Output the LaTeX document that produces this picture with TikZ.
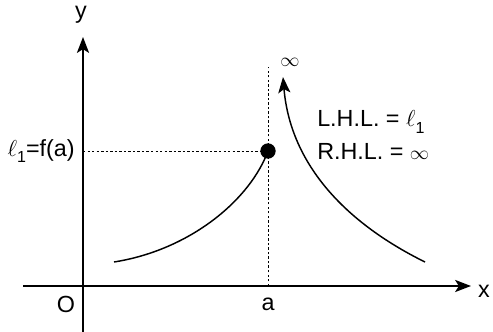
\documentclass[tikz,border=0pt]{standalone}
\usepackage{fontspec}
\setmainfont{Liberation Sans}
\usepackage{tikz}
\usetikzlibrary{positioning,arrows.meta,calc}
\newcommand{\ellsub}{$\ell$\raisebox{-0.5ex}{\fontsize{12}{13}\selectfont 1}}
\newcommand{\infsym}{{\fontsize{13.5}{15}\selectfont$\infty$}}
\tikzset{
  axisline/.style={-{Stealth[length=4.2mm, width=3.2mm, inset=1mm]}, line width=1.1pt},
  curveline/.style={line width=1.1pt},
  arrowcurve/.style={-{Stealth[length=4.2mm, width=3.2mm, inset=1mm]}, line width=1.1pt},
  guideline/.style={line width=0.7pt, dash pattern=on 1.8pt off 1.6pt},
  lbl/.style={font=\fontsize{17.5}{20}\selectfont, inner sep=0pt}
}
\begin{document}
\begin{tikzpicture}[x=0.75pt, y=-0.75pt]
  \useasboundingbox (0,0) rectangle (493,332);
  \coordinate (o) at (83,286);
  \coordinate (xs) at (23,286);
  \coordinate (xe) at (471,286);
  \coordinate (ys) at (83,332);
  \coordinate (ye) at (83,37);
  \coordinate (atop) at (268,67);
  \coordinate (afoot) at (268,286);
  \coordinate (lstart) at (114,262);
  \coordinate (rstart) at (425,262);
  \coordinate (rtip) at (283,77);
  % axes
  \draw[axisline] (xs) -- (xe);
  \draw[axisline] (ys) -- (ye);
  \node[lbl] (xlab) at (484,291) {x};
  \node[lbl] (ylab) at (81,15) {y};
  \node[lbl] (olab) at (66,304) {O};
  \node[lbl] (alab) at (268,304) {a};
  % guides
  \node[circle, fill, inner sep=0pt, minimum size=11.5pt] (pt) at (268,151) {};
  \draw[guideline] (afoot) -- (atop);
  \draw[guideline] (o |- pt) -- (pt);
  \node[lbl, left=6pt of o |- pt] (fa) {\ellsub=f(a)};
  % the two branches
  \draw[curveline] (lstart) .. controls (190,250) and (250,200) .. (pt.center);
  \draw[arrowcurve] (rstart) .. controls (340,220) and (290,160) .. (rtip);
  \node[lbl] (inf) at (290,62) {\infsym};
  \node[lbl, anchor=west] (lhl) at (317,122) {L.H.L. = \ellsub};
  \node[lbl, anchor=west] (rhl) at (317,151) {R.H.L. = \infsym};
\end{tikzpicture}
\end{document}
